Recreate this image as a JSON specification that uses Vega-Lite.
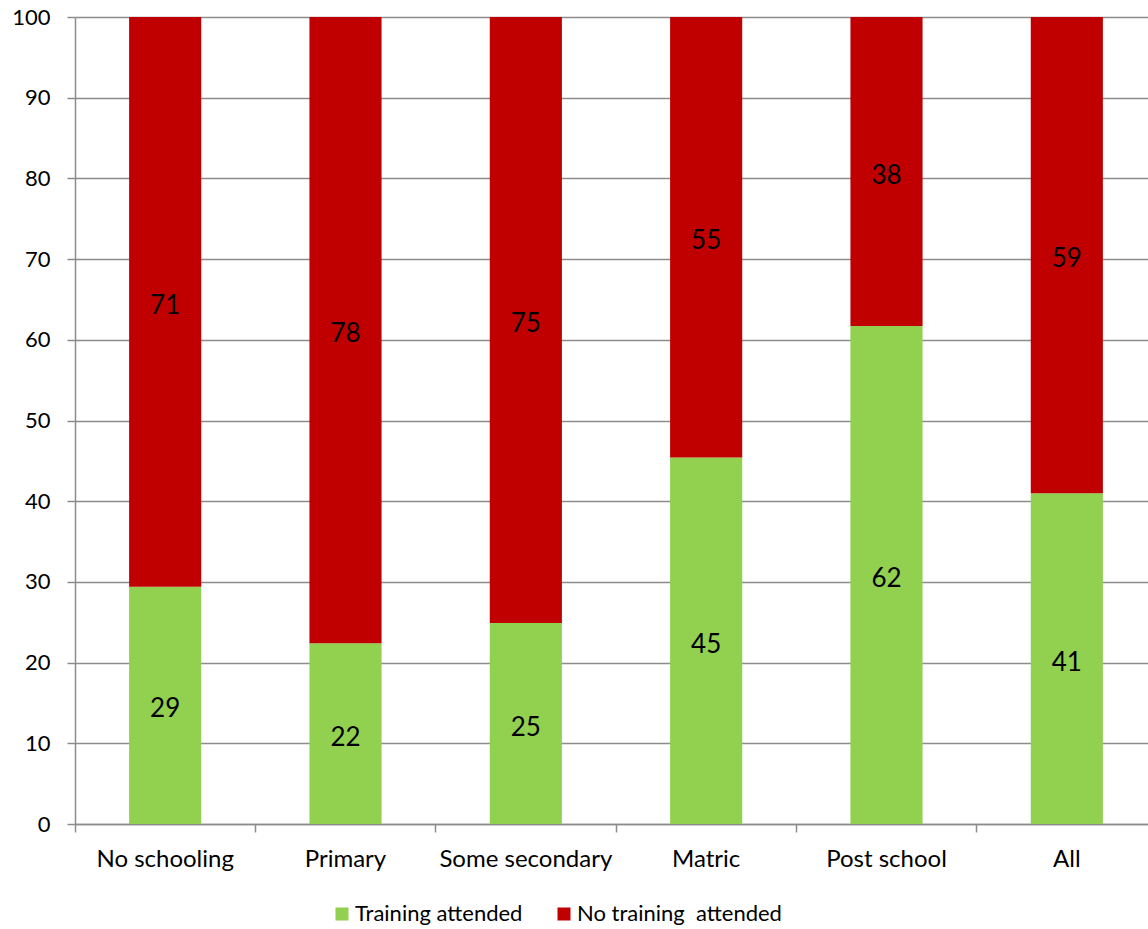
{
  "$schema": "https://vega.github.io/schema/vega-lite/v6.json",
  "autosize": "none",
  "width": 1073,
  "height": 807,
  "padding": {"left": 75, "top": 17, "right": 0, "bottom": 105},
  "background": "white",
  "config": {
    "view": {"stroke": null},
    "font": "Lato",
    "axis": {
      "labelFont": "Lato",
      "labelFontSize": 22,
      "labelColor": "#000000",
      "domainColor": "#8c8c8c",
      "tickColor": "#8c8c8c",
      "gridColor": "#8c8c8c",
      "domainWidth": 1.5,
      "tickWidth": 1.5,
      "gridWidth": 1.5,
      "tickSize": 8,
      "labelPadding": 17,
      "title": null
    }
  },
  "data": {
    "values": [
      {"level": "No schooling", "status": "Training attended", "rank": 1, "pct": 29.4},
      {"level": "No schooling", "status": "No training\u00a0 attended", "rank": 2, "pct": 70.6},
      {"level": "Primary", "status": "Training attended", "rank": 1, "pct": 22.4},
      {"level": "Primary", "status": "No training\u00a0 attended", "rank": 2, "pct": 77.6},
      {"level": "Some secondary", "status": "Training attended", "rank": 1, "pct": 24.9},
      {"level": "Some secondary", "status": "No training\u00a0 attended", "rank": 2, "pct": 75.1},
      {"level": "Matric", "status": "Training attended", "rank": 1, "pct": 45.4},
      {"level": "Matric", "status": "No training\u00a0 attended", "rank": 2, "pct": 54.6},
      {"level": "Post school", "status": "Training attended", "rank": 1, "pct": 61.7},
      {"level": "Post school", "status": "No training\u00a0 attended", "rank": 2, "pct": 38.3},
      {"level": "All", "status": "Training attended", "rank": 1, "pct": 41.0},
      {"level": "All", "status": "No training\u00a0 attended", "rank": 2, "pct": 59.0}
    ]
  },
  "encoding": {
    "x": {
      "field": "level",
      "type": "nominal",
      "sort": ["No schooling", "Primary", "Some secondary", "Matric", "Post school", "All"],
      "scale": {"paddingInner": 0, "paddingOuter": 0, "range": [0, 1082]},
      "axis": {
        "labelAngle": 0,
        "bandPosition": 0,
        "labelFontSize": 24,
        "labelPadding": 15,
        "grid": false
      }
    }
  },
  "layer": [
    {
      "mark": {"type": "bar", "width": {"band": 0.4}},
      "encoding": {
        "y": {
          "field": "pct",
          "type": "quantitative",
          "stack": "zero",
          "scale": {"domain": [0, 100], "nice": false},
          "axis": {
            "values": [0, 10, 20, 30, 40, 50, 60, 70, 80, 90, 100],
            "grid": true
          }
        },
        "color": {
          "field": "status",
          "type": "nominal",
          "sort": ["Training attended", "No training\u00a0 attended"],
          "scale": {
            "domain": ["Training attended", "No training\u00a0 attended"],
            "range": ["#92D050", "#C00000"]
          },
          "legend": {
            "orient": "none",
            "legendX": 256,
            "legendY": 886,
            "direction": "horizontal",
            "title": null,
            "symbolType": "square",
            "symbolSize": 169,
            "symbolStrokeWidth": 0,
            "symbolOpacity": 1,
            "labelFont": "Lato",
            "labelFontSize": 22,
            "labelColor": "#000000",
            "labelLimit": 0,
            "labelOffset": 2,
            "columnPadding": 30
          }
        },
        "order": {"field": "rank", "type": "quantitative"}
      }
    },
    {
      "mark": {"type": "text", "fontSize": 26, "font": "Lato", "color": "#000000", "baseline": "middle", "align": "center", "dy": 4},
      "encoding": {
        "y": {
          "field": "pct",
          "type": "quantitative",
          "stack": "zero",
          "bandPosition": 0.5
        },
        "detail": {"field": "status", "type": "nominal"},
        "order": {"field": "rank", "type": "quantitative"},
        "text": {"field": "pct", "type": "quantitative", "format": ".0f"}
      }
    }
  ]
}
